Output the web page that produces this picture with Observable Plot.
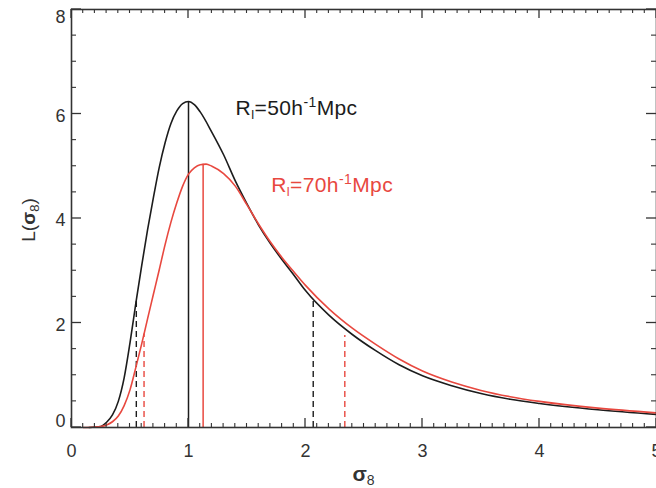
<!DOCTYPE html>
<html><head><meta charset="utf-8">
<script src="https://cdn.jsdelivr.net/npm/d3@7"></script>
<script src="https://cdn.jsdelivr.net/npm/@observablehq/plot@0.6"></script>
<style>body{margin:0;background:#fff;overflow:hidden}</style>
</head><body><div id="chart"></div>
<script>
// ---- data ----
const blackX = [0.15,0.25,0.30,0.35,0.40,0.45,0.50,0.55,0.60,0.65,0.70,0.75,0.80,0.85,0.90,0.95,1.00,1.05,1.10,1.20,1.30,1.40,1.50,1.60,1.70,1.80,1.90,2.00,2.20,2.40,2.60,2.80,3.00,3.25,3.50,3.75,4.00,4.50,5.00];
const blackY = [0.00,0.02,0.10,0.24,0.50,0.95,1.62,2.38,3.10,3.78,4.40,4.98,5.45,5.82,6.06,6.20,6.24,6.18,6.04,5.65,5.22,4.72,4.28,3.87,3.52,3.21,2.92,2.62,2.15,1.78,1.47,1.20,0.99,0.80,0.65,0.54,0.46,0.34,0.25];
const redX = [0.10,0.20,0.25,0.30,0.35,0.40,0.45,0.50,0.55,0.60,0.65,0.70,0.75,0.80,0.85,0.90,0.95,1.00,1.05,1.10,1.15,1.20,1.30,1.40,1.50,1.60,1.70,1.80,1.90,2.00,2.20,2.40,2.60,2.80,3.00,3.25,3.50,3.75,4.00,4.50,5.00];
const redY = [0.00,0.01,0.02,0.05,0.11,0.22,0.42,0.72,1.15,1.60,2.08,2.55,3.02,3.50,3.93,4.30,4.62,4.85,4.97,5.03,5.04,5.00,4.86,4.62,4.26,3.89,3.55,3.25,2.98,2.72,2.27,1.90,1.59,1.31,1.08,0.87,0.71,0.59,0.50,0.37,0.28];
const peakX = [1.00, 1.125];
const peakY = [6.24, 5.04];
const peakSeries = ["50", "70"];
const dashX = [0.554, 2.066, 0.62, 2.336];
const dashY = [2.45, 2.42, 1.79, 1.76];
const dashSeries = ["50", "50", "70", "70"];
const seriesNames = ["50", "70"];
const xTicks = [0, 1, 2, 3, 4, 5];
const yTicks = [0, 2, 4, 6, 8];
const xMinor = d3.range(0, 50.5, 1).map(d => d / 10).filter(d => !xTicks.includes(d));
const yMinor = d3.range(0, 16.5, 1).map(d => d / 2).filter(d => !yTicks.includes(d));

// ---- layout & styles ----
const W = 656, H = 488, ML = 71, MR = 0, MT = 9, MB = 61;
const XDOM = [0, 5], YDOM = [0, 8];
const FONT = "Liberation Sans, Arial, sans-serif";
const AX = "#333";
const colors = {"50": "#1c1c1c", "70": "#e8483f"};
const fmt = d => String(d);

const black = blackX.map((x, i) => ({x, y: blackY[i]}));
const red = redX.map((x, i) => ({x, y: redY[i]}));
const peaks = peakX.map((x, i) => ({x, y: peakY[i], s: peakSeries[i]}));
const dashes = dashX.map((x, i) => ({x, y: dashY[i], s: dashSeries[i]}));

const textY = (ticks, dy) => Plot.axisY(ticks, {anchor: "left", tickSize: 0, tickPadding: 6, dy, fontSize: 18, fill: AX, stroke: "none", tickFormat: fmt, label: null});

const plot = Plot.plot({
  width: W, height: H,
  marginLeft: ML, marginRight: MR, marginTop: MT, marginBottom: MB,
  style: {fontFamily: FONT, background: "#fff", overflow: "visible"},
  x: {domain: XDOM},
  y: {domain: YDOM},
  marks: [
    Plot.ruleX(dashes, {x: "x", y1: 0, y2: "y", stroke: d => colors[d.s], strokeWidth: 1.4, strokeDasharray: "6,4"}),
    Plot.ruleX(peaks, {x: "x", y1: 0, y2: "y", stroke: d => colors[d.s], strokeWidth: 1.5}),
    Plot.line(black, {x: "x", y: "y", stroke: colors["50"], strokeWidth: 1.6, curve: "monotone-x"}),
    Plot.line(red, {x: "x", y: "y", stroke: colors["70"], strokeWidth: 1.6, curve: "monotone-x"}),
    Plot.frame({stroke: AX, strokeWidth: 1.6}),
    Plot.axisX(xTicks, {anchor: "bottom", tickSize: 0, tickPadding: 17, fontSize: 18, fill: AX, stroke: "none", tickFormat: fmt, label: null}),
    textY([2, 4, 6], 2),
    textY([8], 8),
    textY([0], -6)
  ]
});
document.getElementById("chart").appendChild(plot);

const sx = plot.scale("x"), sy = plot.scale("y");
const svg = d3.select(plot);

// inward ticks on all four sides, placed with Plot's own scales
const tg = svg.append("g").attr("stroke", AX).attr("fill", "none");
function xTickSet(vals, len, w) {
  for (const v of vals) {
    const px = sx.apply(v);
    tg.append("line").attr("x1", px).attr("x2", px).attr("y1", sy.apply(YDOM[0])).attr("y2", sy.apply(YDOM[0]) - len).attr("stroke-width", w);
    tg.append("line").attr("x1", px).attr("x2", px).attr("y1", sy.apply(YDOM[1])).attr("y2", sy.apply(YDOM[1]) + len).attr("stroke-width", w);
  }
}
function yTickSet(vals, len, w) {
  for (const v of vals) {
    const py = sy.apply(v);
    tg.append("line").attr("y1", py).attr("y2", py).attr("x1", sx.apply(XDOM[0])).attr("x2", sx.apply(XDOM[0]) + len).attr("stroke-width", w);
    tg.append("line").attr("y1", py).attr("y2", py).attr("x1", sx.apply(XDOM[1])).attr("x2", sx.apply(XDOM[1]) - len).attr("stroke-width", w);
  }
}
xTickSet(xTicks, 9, 1.3);
xTickSet(xMinor, 4, 1.1);
yTickSet(yTicks, 10, 1.3);
yTickSet(yMinor, 5, 1.1);

function seriesLabel(name, x, y) {
  const t = svg.append("text")
    .attr("x", sx.apply(x)).attr("y", sy.apply(y)).attr("text-anchor", "start")
    .attr("fill", colors[name]).attr("font-size", 21).attr("letter-spacing", 0.4).attr("font-family", FONT);
  t.append("tspan").text("R");
  t.append("tspan").attr("font-size", 13).attr("dy", 4).text("l");
  t.append("tspan").attr("dy", -4).text("=" + name + "h");
  t.append("tspan").attr("font-size", 14).attr("dy", -8).text("-1");
  t.append("tspan").attr("dy", 8).text("Mpc");
}
seriesLabel(seriesNames[0], 1.407, 5.97);
seriesLabel(seriesNames[1], 1.711, 4.49);

// axis titles
const xr = sx.range, yr = sy.range;
const xl = svg.append("text")
  .attr("x", (xr[0] + xr[1]) / 2).attr("y", 481)
  .attr("text-anchor", "middle").attr("fill", AX).attr("font-family", FONT);
xl.append("tspan").attr("font-size", 21).attr("font-weight", "bold").text("σ");
xl.append("tspan").attr("font-size", 14).attr("dy", 4).text("8");

const yl = svg.append("text")
  .attr("transform", `translate(35,${(yr[0] + yr[1]) / 2 + 2}) rotate(-90)`)
  .attr("text-anchor", "middle").attr("fill", AX).attr("font-family", FONT).attr("font-size", 19);
yl.append("tspan").text("L(");
yl.append("tspan").attr("font-weight", "bold").text("σ");
yl.append("tspan").attr("font-size", 13).attr("dy", 4).text("8");
yl.append("tspan").attr("dy", -4).text(")");
</script>
</body></html>
